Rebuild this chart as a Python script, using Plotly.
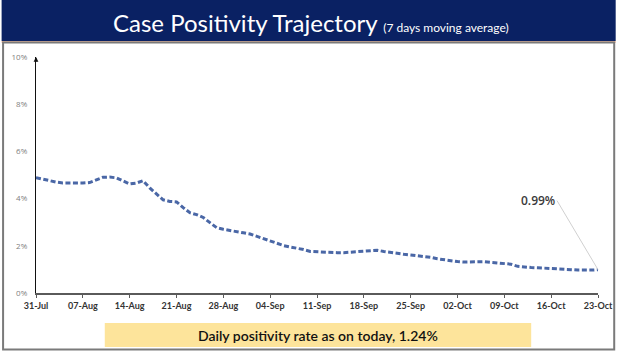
import pandas as pd
import plotly.graph_objects as go

# ---- data ----
start_date = "2020-07-31"
positivity = [
    4.89, 4.82, 4.76, 4.70, 4.66, 4.65, 4.65, 4.66, 4.68, 4.80,
    4.90, 4.91, 4.88, 4.75, 4.62, 4.66, 4.76, 4.45, 4.20, 3.95,
    3.88, 3.86, 3.62, 3.40, 3.32, 3.20, 2.98, 2.77, 2.70, 2.64,
    2.58, 2.55, 2.50, 2.40, 2.28, 2.18, 2.08, 2.01, 1.95, 1.90,
    1.84, 1.76, 1.74, 1.73, 1.72, 1.71, 1.71, 1.73, 1.77, 1.79,
    1.81, 1.81, 1.76, 1.71, 1.67, 1.64, 1.61, 1.58, 1.54, 1.51,
    1.45, 1.40, 1.36, 1.33, 1.31, 1.32, 1.34, 1.33, 1.30, 1.28,
    1.27, 1.22, 1.13, 1.09, 1.08, 1.07, 1.06, 1.05, 1.04, 1.02,
    0.99, 0.97, 0.96, 0.97, 0.99,
]
x_tick_labels = ["31-Jul", "07-Aug", "14-Aug", "21-Aug", "28-Aug", "04-Sep", "11-Sep",
                 "18-Sep", "25-Sep", "02-Oct", "09-Oct", "16-Oct", "23-Oct"]
y_tick_values = [0, 2, 4, 6, 8, 10]
y_tick_labels = ["0%", "2%", "4%", "6%", "8%", "10%"]
title_text = "Case Positivity Trajectory"
subtitle_text = "(7 days moving average)"
callout_text = "0.99%"
footer_text = "Daily positivity rate as on today, 1.24%"

dates = pd.date_range(start_date, periods=len(positivity), freq="D")
tick_dates = pd.date_range(start_date, periods=len(x_tick_labels), freq="7D")

# ---- geometry (pixels) ----
W, H = 625, 351
ML, MR, MT, MB = 35, 18, 57, 58
PW, PH = W - ML - MR, H - MT - MB

def px(x):
    return (x - ML) / PW

def py(y):
    return (H - MB - y) / PH

fig = go.Figure()
fig.add_trace(go.Scatter(
    x=dates, y=positivity, mode="lines",
    line=dict(color="#4a67a6", width=3, dash="5px,2.5px"),
    hoverinfo="skip", showlegend=False,
))

shapes = [
    # banner
    dict(type="rect", xref="paper", yref="paper", x0=px(0), x1=px(W), y0=py(0), y1=py(41),
         fillcolor="#0a2163", line=dict(width=0), layer="below"),
    dict(type="line", xref="paper", yref="paper", x0=px(0), x1=px(W), y0=py(42), y1=py(42),
         line=dict(color="#e9a07a", width=1.5)),
    # frame
    dict(type="rect", xref="paper", yref="paper", x0=px(1.5), x1=px(623.5), y0=py(42.5), y1=py(349.5),
         line=dict(color="#7a7a7a", width=2), fillcolor="rgba(0,0,0,0)"),
    # footer box
    dict(type="rect", xref="paper", yref="paper", x0=px(105), x1=px(539), y0=py(323), y1=py(347),
         fillcolor="#fde49b", line=dict(width=0), layer="below"),
]

annotations = [
    dict(xref="paper", yref="paper", x=px(315), y=py(23), xanchor="center", yanchor="middle",
         text=f"{title_text} <span style='font-size:12px'>{subtitle_text}</span>",
         showarrow=False, font=dict(family="Lato", size=24, color="white")),
    dict(xref="paper", yref="paper", x=px(322), y=py(335), xanchor="center", yanchor="middle",
         text=footer_text, showarrow=False,
         font=dict(family="Lato", size=14, color="#111111", weight=600)),
    dict(x=dates[-1], y=positivity[-1], xref="x", yref="y", text=callout_text,
         showarrow=True, arrowhead=0, arrowwidth=1, arrowcolor="#d0d0d0",
         ax=-41, ay=-69, xanchor="right", yanchor="middle",
         font=dict(family="Open Sans", size=12, color="#3a3a3a", weight=600), standoff=0),
    # y axis arrow
    dict(xref="paper", yref="paper", x=0, y=1, ax=0, ay=6, showarrow=True, arrowhead=2,
         arrowsize=0.8, arrowwidth=1.2, arrowcolor="#111111", text=""),
]

fig.update_layout(
    width=W, height=H,
    margin=dict(l=ML, r=MR, t=MT, b=MB),
    paper_bgcolor="white", plot_bgcolor="white",
    shapes=shapes, annotations=annotations,
    xaxis=dict(
        type="date", range=[dates[0], dates[-1]],
        tickvals=list(tick_dates), ticktext=x_tick_labels,
        showgrid=False, zeroline=False, showline=True, linecolor="#5a5a5a", linewidth=2,
        ticks="outside", ticklen=3, tickwidth=1, tickcolor="#5a5a5a",
        tickfont=dict(family="Lato", size=9, color="#333333", weight="bold"),
        fixedrange=True,
    ),
    yaxis=dict(
        range=[0, 10], tickvals=y_tick_values, ticktext=y_tick_labels,
        showgrid=False, zeroline=False, showline=True, linecolor="#111111", linewidth=1.2,
        ticks="", ticklabelstandoff=6,
        tickfont=dict(family="Open Sans", size=8, color="#808080"),
        fixedrange=True,
    ),
)

fig.write_html("out.html")
